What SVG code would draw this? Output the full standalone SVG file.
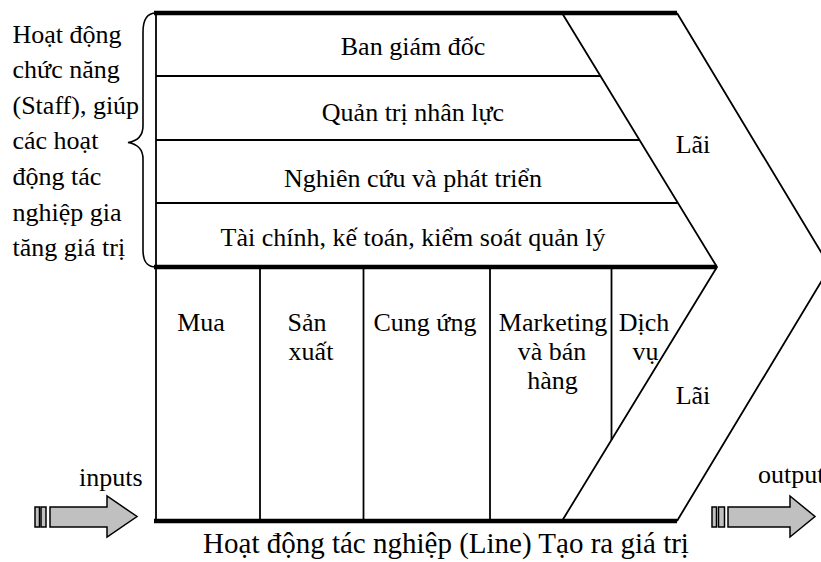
<svg xmlns="http://www.w3.org/2000/svg" width="821" height="562" viewBox="0 0 821 562">
  <style>
    text { font-family: "Liberation Serif", "Times New Roman", serif; font-size: 26px; fill: #000; }
    .c { text-anchor: middle; }
    .caption { font-size: 29px; }
    .thick { stroke: #000; stroke-width: 4.5; fill: none; }
    .thin { stroke: #000; stroke-width: 1.8; fill: none; }
    .brace { stroke: #000; stroke-width: 1.6; fill: none; }
    .blockarrow { fill: #c0c0c0; stroke: #000; stroke-width: 1.5; stroke-linejoin: miter; }
  </style>

  <rect x="0" y="0" width="821" height="562" fill="#fff"/>

  <!-- frame: thick horizontal bands and the left edge -->
  <g id="frame">
    <line x1="154" y1="13" x2="677" y2="13" class="thick"/>
    <line x1="154" y1="267" x2="717" y2="267" class="thick"/>
    <line x1="154" y1="521" x2="677" y2="521" class="thick"/>
    <line x1="156" y1="13" x2="156" y2="521" class="thin"/>
  </g>

  <!-- margin chevron (Lãi) -->
  <g id="margin">
    <polyline points="562,13 717,267 562,521" class="thin"/>
    <polyline points="677,13 830,267 677,521" class="thin"/>
    <text x="693" y="153" class="c">Lãi</text>
    <text x="693" y="404" class="c">Lãi</text>
  </g>

  <!-- support activities -->
  <g id="staff-rows">
    <line x1="156" y1="76" x2="600.4" y2="76" class="thin"/>
    <line x1="156" y1="140" x2="639.5" y2="140" class="thin"/>
    <line x1="156" y1="203" x2="677.9" y2="203" class="thin"/>
  </g>
  <g id="ban-giam-doc"><text x="413" y="55" class="c">Ban giám đốc</text></g>
  <g id="quan-tri-nhan-luc"><text x="413" y="121" class="c">Quản trị nhân lực</text></g>
  <g id="nghien-cuu"><text x="413" y="187" class="c">Nghiên cứu và phát triển</text></g>
  <g id="tai-chinh"><text x="413" y="246" class="c">Tài chính, kế toán, kiểm soát quản lý</text></g>

  <!-- primary activities -->
  <g id="line-columns">
    <line x1="260" y1="267" x2="260" y2="521" class="thin"/>
    <line x1="363.5" y1="267" x2="363.5" y2="521" class="thin"/>
    <line x1="490" y1="267" x2="490" y2="521" class="thin"/>
    <line x1="611.5" y1="267" x2="611.5" y2="440" class="thin"/>
  </g>
  <g id="mua"><text x="201" y="331" class="c">Mua</text></g>
  <g id="san-xuat">
    <text x="307" y="331" class="c">Sản</text>
    <text x="311" y="360" class="c">xuất</text>
  </g>
  <g id="cung-ung"><text x="425" y="331" class="c">Cung ứng</text></g>
  <g id="marketing">
    <text x="553" y="331" class="c">Marketing</text>
    <text x="552" y="360" class="c">và bán</text>
    <text x="552.5" y="389" class="c">hàng</text>
  </g>
  <g id="dich-vu">
    <text x="644" y="331" class="c">Dịch</text>
    <text x="645.5" y="360" class="c">vụ</text>
  </g>

  <!-- brace label for staff activities -->
  <g id="staff-label">
    <path d="M156,13 C147,13 143,19 143,32 L143,126 C143,136 137,141 128,142.5 C137,144 143,149 143,159 L143,250 C143,262 147,267 156,267" class="brace"/>
    <text x="12.5" y="42.5">Hoạt động</text>
    <text x="12.5" y="78">chức năng</text>
    <text x="12.5" y="113.5">(Staff), giúp</text>
    <text x="12.5" y="149">các hoạt</text>
    <text x="12.5" y="185">động tác</text>
    <text x="12.5" y="220.5">nghiệp gia</text>
    <text x="12.5" y="256">tăng giá trị</text>
  </g>

  <g id="line-caption"><text x="446" y="553" class="c caption">Hoạt động tác nghiệp (Line) Tạo ra giá trị</text></g>

  <!-- inputs / outputs flow arrows -->
  <g id="connectors">
    <g id="input-arrow">
      <rect x="35" y="507" width="4.5" height="20" class="blockarrow"/>
      <rect x="41" y="507" width="5" height="20" class="blockarrow"/>
      <polygon points="50,507 107,507 107,496 137,516.5 107,537 107,527 50,527" class="blockarrow"/>
    </g>
    <g id="output-arrow">
      <rect x="712" y="507" width="4.5" height="20" class="blockarrow"/>
      <rect x="718.5" y="507" width="6" height="20" class="blockarrow"/>
      <polygon points="728,507 790,507 790,496 815,516.5 790,537 790,527 728,527" class="blockarrow"/>
    </g>
    <text x="79" y="486">inputs</text>
    <text x="758" y="483">outputs</text>
  </g>
</svg>
